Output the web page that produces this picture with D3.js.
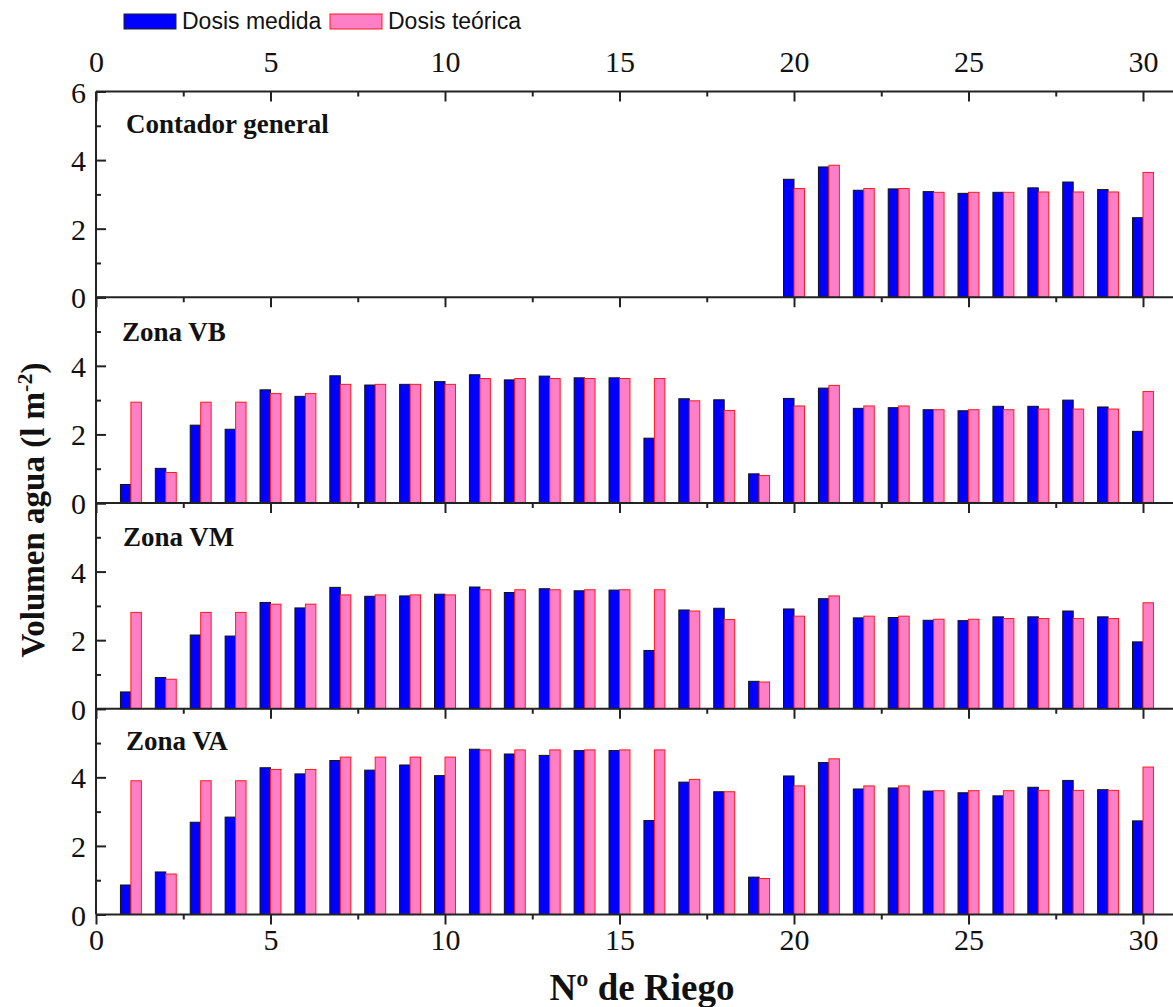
<!DOCTYPE html>
<html><head><meta charset="utf-8">
<script src="https://cdn.jsdelivr.net/npm/d3@7"></script>
<style>body{margin:0;background:#fff}svg{display:block}</style>
</head><body>
<script>
const riego = [1,2,3,4,5,6,7,8,9,10,11,12,13,14,15,16,17,18,19,20,21,22,23,24,25,26,27,28,29,30];
const panelNames = ["Contador general","Zona VB","Zona VM","Zona VA"];
const seriesNames = ["Dosis medida","Dosis teórica"];
const xTickValues = [0,5,10,15,20,25,30];
const yTicksTop = [0,2,4,6];
const yTicksOther = [0,2,4];

const contadorMedida = [null,null,null,null,null,null,null,null,null,null,null,null,null,null,null,null,null,null,null,3.44,3.80,3.12,3.16,3.08,3.03,3.06,3.19,3.36,3.14,2.32];
const contadorTeorica = [null,null,null,null,null,null,null,null,null,null,null,null,null,null,null,null,null,null,null,3.17,3.85,3.17,3.17,3.06,3.06,3.06,3.07,3.07,3.07,3.64];
const vbMedida = [0.54,1.01,2.27,2.15,3.30,3.11,3.71,3.44,3.46,3.54,3.74,3.59,3.70,3.65,3.65,1.89,3.04,3.01,0.85,3.05,3.35,2.76,2.78,2.72,2.69,2.82,2.82,3.00,2.80,2.09];
const vbTeorica = [2.94,0.89,2.94,2.94,3.19,3.19,3.46,3.46,3.46,3.46,3.63,3.63,3.63,3.63,3.63,3.63,2.98,2.70,0.80,2.83,3.43,2.83,2.83,2.72,2.72,2.72,2.74,2.74,2.74,3.25];
const vmMedida = [0.49,0.91,2.15,2.12,3.10,2.94,3.54,3.28,3.29,3.34,3.55,3.39,3.50,3.44,3.46,1.70,2.88,2.93,0.80,2.91,3.21,2.65,2.66,2.58,2.57,2.68,2.68,2.85,2.68,1.95];
const vmTeorica = [2.81,0.86,2.81,2.81,3.05,3.05,3.32,3.32,3.32,3.32,3.47,3.47,3.47,3.47,3.47,3.47,2.85,2.60,0.78,2.70,3.29,2.70,2.70,2.61,2.61,2.63,2.63,2.63,2.63,3.09];
const vaMedida = [0.86,1.24,2.69,2.84,4.28,4.10,4.49,4.21,4.36,4.05,4.82,4.68,4.64,4.78,4.78,2.74,3.86,3.58,1.09,4.04,4.43,3.66,3.69,3.60,3.55,3.46,3.71,3.91,3.64,2.73];
const vaTeorica = [3.90,1.18,3.90,3.90,4.23,4.23,4.59,4.59,4.59,4.59,4.80,4.80,4.80,4.80,4.80,4.80,3.94,3.58,1.05,3.75,4.54,3.75,3.75,3.61,3.61,3.61,3.62,3.62,3.62,4.30];

const panels = [
  {name: panelNames[0], medida: contadorMedida, teorica: contadorTeorica, yTicks: yTicksTop},
  {name: panelNames[1], medida: vbMedida, teorica: vbTeorica, yTicks: yTicksOther},
  {name: panelNames[2], medida: vmMedida, teorica: vmTeorica, yTicks: yTicksOther},
  {name: panelNames[3], medida: vaMedida, teorica: vaTeorica, yTicks: yTicksOther}
];

const W = 1173, H = 1007;
const left = 96, unit = 34.9;
const plotTop = 91.5, plotBottom = 914.5;
const panelH = (plotBottom - plotTop) / 4;
const serif = "'Liberation Serif', 'Times New Roman', serif";
const sans = "'Liberation Sans', Arial, sans-serif";
const blue = "#0000ff", pink = "#ff7fc6", pinkStroke = "#ff1a1a";

const svg = d3.select("body").append("svg").attr("width", W).attr("height", H);
const x = d3.scaleLinear().domain([0, 31]).range([left, left + 31 * unit]);
const bw = 0.3;

panels.forEach((p, i) => {
  const top = plotTop + i * panelH, bottom = top + panelH;
  const y = d3.scaleLinear().domain([0, 6]).range([bottom, top]);
  const g = svg.append("g");
  const dm = riego.map((r, k) => ({r, v: p.medida[k]})).filter(d => d.v != null);
  const dt = riego.map((r, k) => ({r, v: p.teorica[k]})).filter(d => d.v != null);
  g.selectAll("rect.m").data(dm).join("rect").attr("class", "m")
    .attr("x", d => x(d.r - bw)).attr("width", d => x(d.r) - x(d.r - bw))
    .attr("y", d => y(d.v)).attr("height", d => y(0) - y(d.v))
    .attr("fill", blue).attr("stroke", "#111").attr("stroke-width", 1);
  g.selectAll("rect.t").data(dt).join("rect").attr("class", "t")
    .attr("x", d => x(d.r)).attr("width", d => x(d.r + bw) - x(d.r))
    .attr("y", d => y(d.v)).attr("height", d => y(0) - y(d.v))
    .attr("fill", pink).attr("stroke", pinkStroke).attr("stroke-width", 1);

  const yAx = g.append("g").attr("transform", `translate(${left},0)`)
    .call(d3.axisRight(y).tickValues([0,2,4,6]).tickSize(10)
      .tickFormat(v => p.yTicks.includes(v) ? v : ""));
  yAx.select(".domain").remove();
  yAx.selectAll("text").attr("x", -10).attr("text-anchor", "end")
    .attr("font-family", serif).attr("font-size", 30).attr("fill", "#111").attr("dy", "0.35em");
  yAx.selectAll("line").attr("stroke", "#222").attr("stroke-width", 2);
  const yMin = g.append("g").attr("transform", `translate(${left},0)`)
    .call(d3.axisRight(y).tickValues([1,3,5]).tickSize(5).tickFormat(""));
  yMin.select(".domain").remove();
  yMin.selectAll("line").attr("stroke", "#222").attr("stroke-width", 2);

  const xAx = g.append("g").attr("transform", `translate(0,${bottom})`)
    .call(d3.axisBottom(x).tickValues(xTickValues).tickSize(10).tickFormat(i === 3 ? d3.format("d") : ""));
  xAx.select(".domain").remove();
  xAx.selectAll("line").attr("stroke", "#222").attr("stroke-width", 2);
  xAx.selectAll("text").attr("font-family", serif).attr("font-size", 30).attr("fill", "#111").attr("y", 14);
  const xMin = g.append("g").attr("transform", `translate(0,${bottom})`)
    .call(d3.axisBottom(x).tickValues([2.5,7.5,12.5,17.5,22.5,27.5]).tickSize(5).tickFormat(""));
  xMin.select(".domain").remove();
  xMin.selectAll("line").attr("stroke", "#222").attr("stroke-width", 2);

  g.append("line").attr("x1", left).attr("x2", W).attr("y1", bottom).attr("y2", bottom)
    .attr("stroke", "#222").attr("stroke-width", 2);

  g.append("text").attr("x", [126,122,123,126][i]).attr("y", top + [41.5,43.5,43,41][i])
    .attr("font-family", serif).attr("font-weight", "bold").attr("font-size", 27)
    .attr("fill", "#111").text(p.name);
});

const topAx = svg.append("g").attr("transform", `translate(0,${plotTop})`)
  .call(d3.axisTop(x).tickValues(xTickValues).tickSize(-10).tickPadding(20).tickFormat(d3.format("d")));
topAx.select(".domain").remove();
topAx.selectAll("line").attr("stroke", "#222").attr("stroke-width", 2);
topAx.selectAll("text").attr("font-family", serif).attr("font-size", 30).attr("fill", "#111");
const topMin = svg.append("g").attr("transform", `translate(0,${plotTop})`)
  .call(d3.axisTop(x).tickValues([2.5,7.5,12.5,17.5,22.5,27.5]).tickSize(-5).tickFormat(""));
topMin.select(".domain").remove();
topMin.selectAll("line").attr("stroke", "#222").attr("stroke-width", 2);
svg.append("line").attr("x1", left).attr("x2", W).attr("y1", plotTop).attr("y2", plotTop)
  .attr("stroke", "#222").attr("stroke-width", 2);
svg.append("line").attr("x1", left).attr("x2", left).attr("y1", plotTop).attr("y2", plotBottom)
  .attr("stroke", "#222").attr("stroke-width", 2);

const leg = svg.append("g");
leg.append("rect").attr("x", 124).attr("y", 14).attr("width", 52).attr("height", 15)
  .attr("fill", blue).attr("stroke", "#222").attr("stroke-width", 1);
leg.append("text").attr("x", 182).attr("y", 29).attr("font-family", sans).attr("font-size", 23)
  .attr("fill", "#111").text(seriesNames[0]);
leg.append("rect").attr("x", 330).attr("y", 14).attr("width", 52).attr("height", 15)
  .attr("fill", pink).attr("stroke", pinkStroke).attr("stroke-width", 1);
leg.append("text").attr("x", 388).attr("y", 29).attr("font-family", sans).attr("font-size", 23)
  .attr("fill", "#111").text(seriesNames[1]);

svg.append("text").attr("x", 642).attr("y", 1000).attr("text-anchor", "middle")
  .attr("font-family", serif).attr("font-weight", "bold").attr("font-size", 37).attr("fill", "#111")
  .text("Nº de Riego");
const yt = svg.append("text").attr("transform", "translate(44,510) rotate(-90)").attr("text-anchor", "middle")
  .attr("font-family", serif).attr("font-weight", "bold").attr("font-size", 33).attr("fill", "#111");
yt.append("tspan").text("Volumen agua (l m");
yt.append("tspan").attr("dy", -12).attr("font-size", 22).text("-2");
yt.append("tspan").attr("dy", 12).text(")");
</script>
</body></html>
